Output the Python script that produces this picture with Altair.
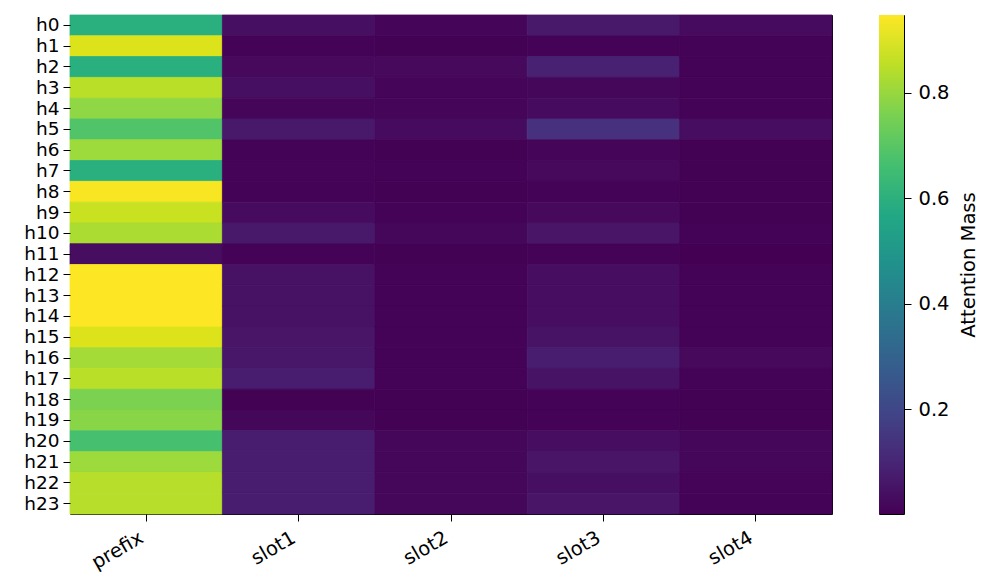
import altair as alt
import pandas as pd

heads = ["h0", "h1", "h2", "h3", "h4", "h5", "h6", "h7", "h8", "h9", "h10", "h11",
         "h12", "h13", "h14", "h15", "h16", "h17", "h18", "h19", "h20", "h21", "h22", "h23"]
positions = ["prefix", "slot1", "slot2", "slot3", "slot4"]

prefix = [0.60, 0.90, 0.60, 0.85, 0.79, 0.69, 0.81, 0.60, 0.94, 0.87, 0.83, 0.03,
          0.948, 0.948, 0.948, 0.90, 0.82, 0.85, 0.76, 0.78, 0.67, 0.81, 0.845, 0.845]
slot1 = [0.035, 0.005, 0.02, 0.035, 0.01, 0.06, 0.005, 0.008, 0.005, 0.025, 0.06, 0.005,
         0.04, 0.04, 0.04, 0.05, 0.055, 0.07, 0.003, 0.015, 0.07, 0.07, 0.07, 0.07]
slot2 = [0.01, 0.003, 0.02, 0.01, 0.01, 0.025, 0.003, 0.005, 0.003, 0.005, 0.015, 0.003,
         0.005, 0.005, 0.005, 0.005, 0.005, 0.005, 0.003, 0.003, 0.015, 0.015, 0.015, 0.015]
slot3 = [0.06, 0.005, 0.085, 0.015, 0.025, 0.13, 0.01, 0.02, 0.005, 0.02, 0.05, 0.005,
         0.03, 0.03, 0.03, 0.045, 0.07, 0.045, 0.005, 0.005, 0.03, 0.05, 0.035, 0.05]
slot4 = [0.025, 0.005, 0.005, 0.005, 0.005, 0.03, 0.003, 0.003, 0.003, 0.003, 0.005, 0.001,
         0.005, 0.005, 0.005, 0.005, 0.02, 0.005, 0.003, 0.003, 0.015, 0.015, 0.008, 0.005]

cb_ticks = [0.2, 0.4, 0.6, 0.8]
viridis_stops = ["#440154", "#482475", "#414487", "#355f8d", "#2a788e", "#21918c",
                 "#22a884", "#44bf70", "#7ad151", "#bddf26", "#fde725"]

rows = []
for pos, vals in zip(positions, [prefix, slot1, slot2, slot3, slot4]):
    for h, v in zip(heads, vals):
        rows.append({"head": h, "position": pos, "mass": v})
df = pd.DataFrame(rows)
vmin, vmax = float(df["mass"].min()), float(df["mass"].max())

FONT = "DejaVu Sans"
FS = 19.5

cscale = alt.Scale(scheme="viridis", domain=[vmin, vmax])

heat = alt.Chart(df).mark_rect(strokeWidth=0.8).encode(
    x=alt.X("position:N", sort=positions,
            scale=alt.Scale(paddingInner=0, paddingOuter=0),
            axis=alt.Axis(title=None, labelAngle=330, labelAlign="right",
                          labelBaseline="top", labelPadding=7, labelOffset=-9)),
    y=alt.Y("head:N", sort=heads,
            scale=alt.Scale(paddingInner=0, paddingOuter=0),
            axis=alt.Axis(title=None, labelPadding=4, labelFontSize=18.5,
                          minExtent=56, maxExtent=56)),
    color=alt.Color("mass:Q", scale=cscale, legend=None),
    stroke=alt.Stroke("mass:Q", scale=cscale, legend=None),
).properties(width=762, height=499)

cb_df = pd.DataFrame({"lo": [vmin], "hi": [vmax]})
colorbar = alt.Chart(cb_df).mark_rect(
    fill=alt.Gradient(gradient="linear",
                      stops=[alt.GradientStop(offset=i / (len(viridis_stops) - 1), color=c)
                             for i, c in enumerate(viridis_stops)],
                      x1=0, y1=1, x2=0, y2=0),
).encode(
    x=alt.value(0), x2=alt.value(25),
    y=alt.Y("lo:Q",
            scale=alt.Scale(domain=[vmin, vmax], nice=False, zero=False),
            axis=alt.Axis(orient="right", values=cb_ticks, format=".1f",
                          title="Attention Mass", titleAngle=270,
                          titleX=64, titleY=249.5, titleAlign="center",
                          titleBaseline="middle",
                          labelPadding=7, grid=False)),
    y2="hi:Q",
).properties(width=25, height=499)

chart = alt.hconcat(heat, colorbar, spacing=45).properties(
    padding={"left": 5, "top": 6, "right": 5, "bottom": 5}
).configure_view(
    stroke="black", strokeWidth=1
).configure_axis(
    labelFont=FONT, labelFontSize=FS, labelColor="black",
    titleFont=FONT, titleFontSize=FS, titleColor="black", titleFontWeight="normal",
    tickColor="black", tickSize=7, tickWidth=1, domain=False, grid=False
)

chart.save("out.html", embed_options={"renderer": "svg", "actions": False})
